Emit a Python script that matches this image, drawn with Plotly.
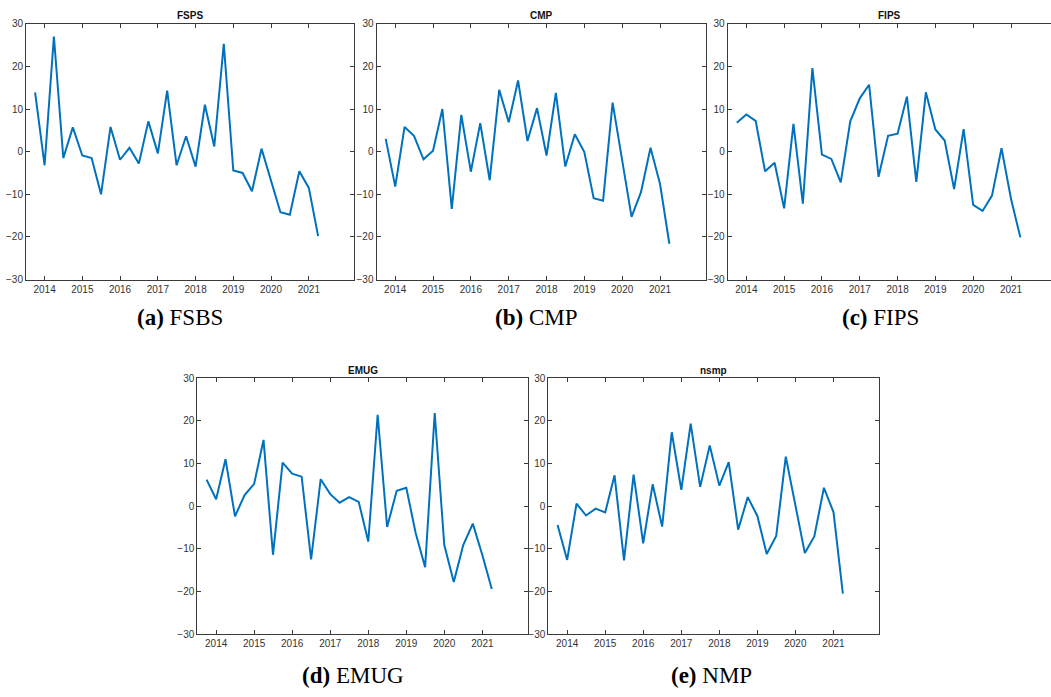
import plotly.graph_objects as go
import pandas as pd

# Quarterly observations, 2013Q4 .. 2021Q2
quarters = pd.date_range("2013-10-01", periods=31, freq="QS-OCT")

fsps = [13.9, -3.2, 27.0, -1.5, 5.7, -0.9, -1.5, -10.0, 5.8, -1.9, 0.9, -2.8, 7.1, -0.4,
        14.3, -3.2, 3.6, -3.5, 11.0, 1.2, 25.3, -4.4, -5.0, -9.3, 0.7, -6.8, -14.2, -14.8,
        -4.6, -8.5, -19.8]
cmp_ = [3.0, -8.2, 5.8, 3.7, -1.8, 0.2, 10.0, -13.4, 8.6, -4.7, 6.7, -6.7, 14.5, 6.9,
        16.7, 2.5, 10.2, -0.9, 13.8, -3.5, 4.1, -0.1, -10.9, -11.5, 11.5, -2.5, -15.3, -9.5,
        0.9, -7.6, -21.6]
fips = [6.8, 8.7, 7.2, -4.6, -2.6, -13.3, 6.5, -12.2, 19.6, -0.7, -1.7, -7.2, 7.1, 12.5,
        15.7, -5.9, 3.7, 4.2, 12.9, -7.1, 13.9, 5.2, 2.6, -8.8, 5.3, -12.5, -13.9, -10.3,
        0.8, -11.1, -20.1]
emug = [6.2, 1.6, 11.0, -2.4, 2.6, 5.2, 15.5, -11.4, 10.2, 7.6, 6.9, -12.5, 6.3, 2.8,
        0.8, 2.1, 1.0, -8.3, 21.4, -4.9, 3.6, 4.3, -6.3, -14.3, 21.8, -9.1, -17.8, -9.1,
        -4.1, -11.5, -19.4]
nsmp = [-4.4, -12.6, 0.6, -2.2, -0.6, -1.5, 7.2, -12.7, 7.4, -8.7, 5.1, -4.8, 17.3, 3.8,
        19.3, 4.5, 14.2, 4.8, 10.3, -5.5, 2.1, -2.3, -11.2, -7.0, 11.6, 0.3, -11.0, -7.1,
        4.3, -1.4, -20.5]

titles = ["FSPS", "CMP", "FIPS", "EMUG", "nsmp"]
caption_tags = ["(a)", "(b)", "(c)", "(d)", "(e)"]
caption_names = ["FSBS", "CMP", "FIPS", "EMUG", "NMP"]
series = [fsps, cmp_, fips, emug, nsmp]
year_ticks = [f"{y}-01-01" for y in range(2014, 2022)]
year_labels = [str(y) for y in range(2014, 2022)]
y_ticks = [-30, -20, -10, 0, 10, 20, 30]

W, H = 1051, 697
# panel boxes in pixels: (left, right, top, bottom)
boxes = [(26, 354, 19, 279), (376.5, 705.5, 19, 279), (727.7, 1051, 19, 279),
         (197.3, 527.7, 379, 639.3), (548.3, 879, 379, 639.3)]
xranges = [["2013-07-05", "2022-03-14"], ["2013-07-04", "2022-03-16"],
           ["2013-07-05", "2022-01-22"], ["2013-07-04", "2022-03-12"],
           ["2013-07-04", "2022-03-14"]]
caption_x = [180, 536, 880, 353, 711]
caption_y = [318, 318, 318, 681, 681]

fig = go.Figure()
axis_col = "#3a3a3a"
tick_font = dict(family="Liberation Sans, Arial, sans-serif", size=10, color="#333333")

for i, (vals, box) in enumerate(zip(series, boxes)):
    l, r, t, b = box
    xa = "x" if i == 0 else f"x{i+1}"
    ya = "y" if i == 0 else f"y{i+1}"
    fig.add_trace(go.Scatter(x=quarters, y=vals, mode="lines",
                             line=dict(color="#0072BD", width=2),
                             xaxis=xa, yaxis=ya, showlegend=False,
                             hoverinfo="skip"))
    xkey = "xaxis" if i == 0 else f"xaxis{i+1}"
    ykey = "yaxis" if i == 0 else f"yaxis{i+1}"
    fig.layout[xkey] = dict(
        domain=[l / W, min(r / W, 1.0)], anchor=ya, type="date",
        range=xranges[i], tickvals=year_ticks, ticktext=year_labels,
        ticks="inside", ticklen=4, tickcolor=axis_col, tickwidth=1,
        showline=True, linecolor=axis_col, linewidth=1, mirror="ticks",
        showgrid=False, zeroline=False, tickfont=tick_font, fixedrange=True)
    fig.layout[ykey] = dict(
        domain=[1 - b / H, 1 - t / H], anchor=xa,
        range=[-30, 30], tickvals=y_ticks,
        ticks="inside", ticklen=4, tickcolor=axis_col, tickwidth=1,
        showline=True, linecolor=axis_col, linewidth=1,
        mirror=(False if i == 2 else "ticks"),
        showgrid=False, zeroline=False, tickfont=tick_font, fixedrange=True)
    # panel title
    fig.add_annotation(x=(l + r) / 2 / W, y=1 - (t - 8) / H, xref="paper", yref="paper",
                       text=f"<b>{titles[i]}</b>", showarrow=False,
                       font=dict(family="Liberation Sans, Arial, sans-serif", size=10, color="#111111"),
                       xanchor="center", yanchor="middle")
    # caption
    fig.add_annotation(x=caption_x[i] / W, y=1 - caption_y[i] / H, xref="paper", yref="paper",
                       text=f"<b>{caption_tags[i]}</b> {caption_names[i]}", showarrow=False,
                       font=dict(family="Liberation Serif, Times New Roman, serif", size=23, color="#000000"),
                       xanchor="center", yanchor="middle")

fig.update_layout(width=W, height=H, margin=dict(l=0, r=0, t=0, b=0),
                  paper_bgcolor="white", plot_bgcolor="white")

fig.write_html("out.html", config={"displayModeBar": False},
               post_script="document.body.style.margin='0';document.body.style.overflow='hidden';")
